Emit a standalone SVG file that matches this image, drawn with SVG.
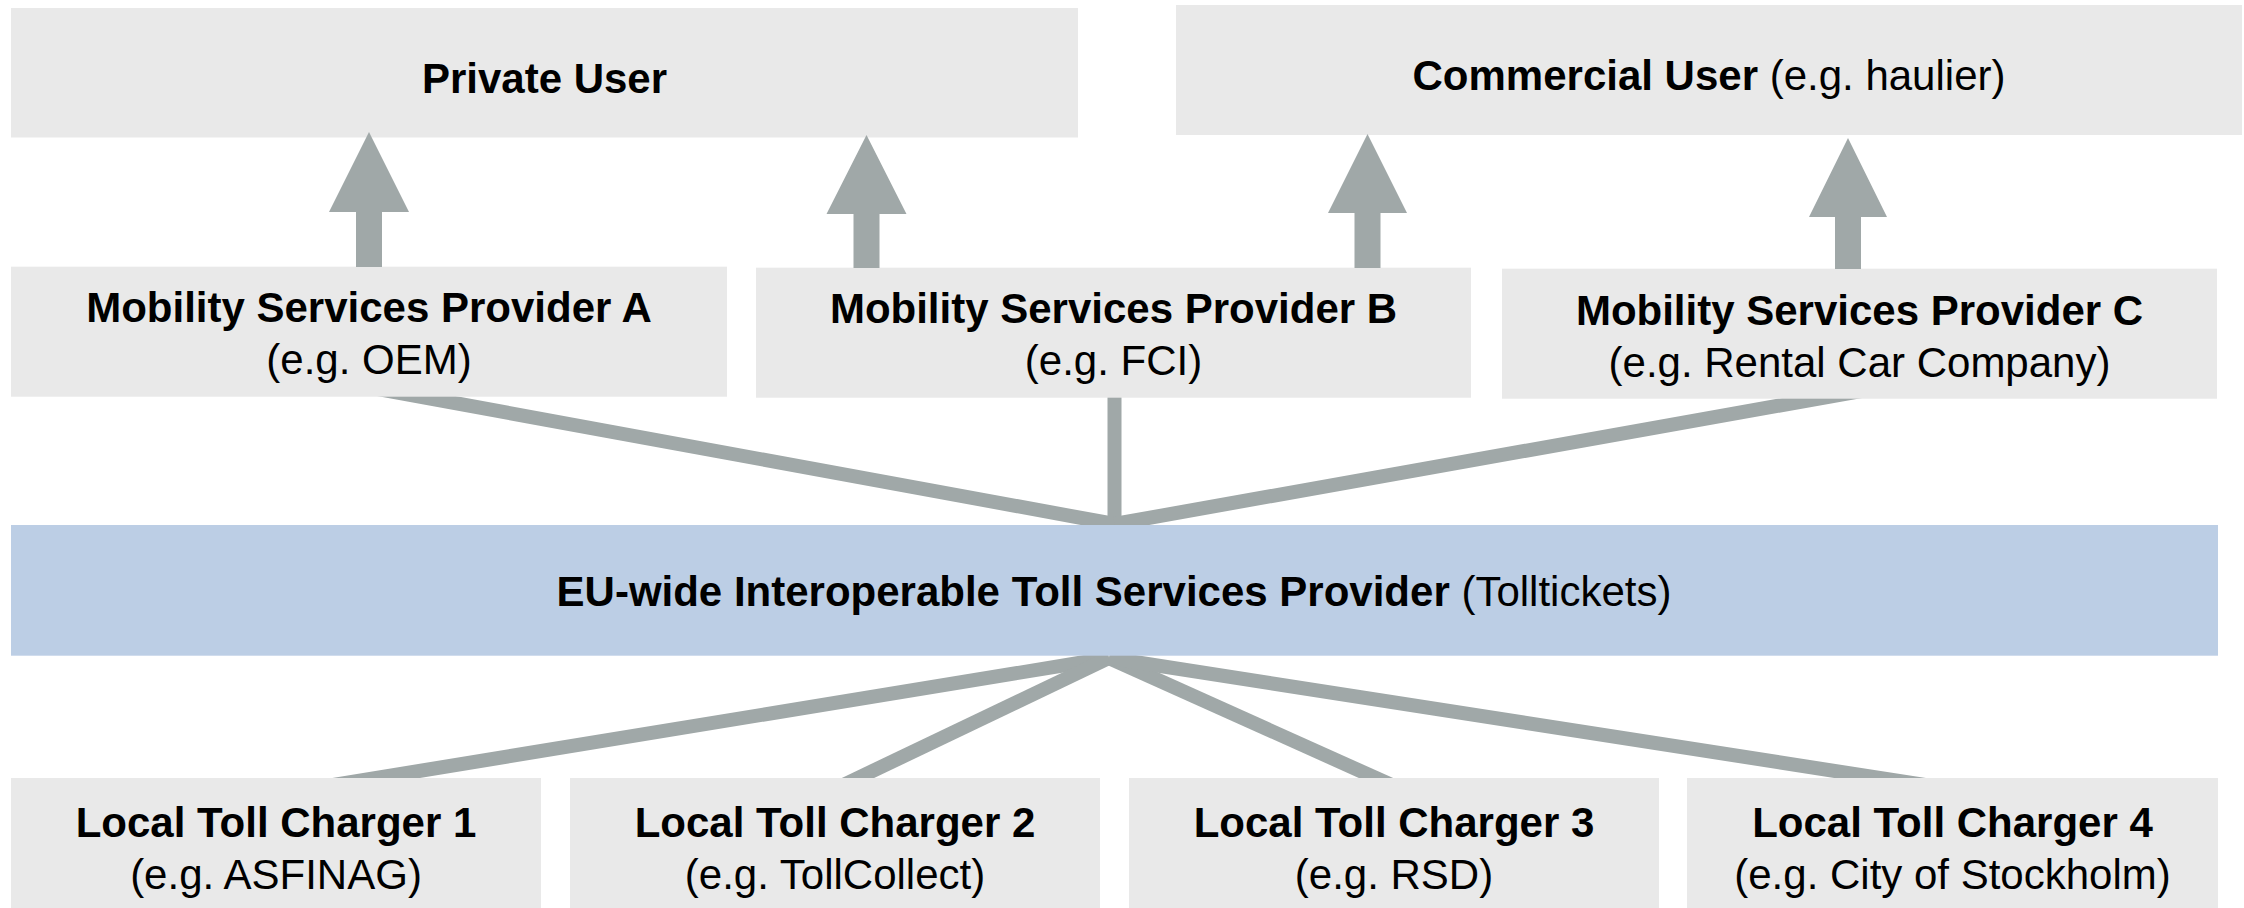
<svg xmlns="http://www.w3.org/2000/svg" width="2244" height="908" viewBox="0 0 2244 908">
<style>
.box{fill:#E9E9E9}
.eu{fill:#BCCEE5}
.t{font-family:"Liberation Sans",Arial,sans-serif;font-size:42px;fill:#000;text-anchor:middle}
.b{font-weight:bold}
.ln{stroke:#A0A8A8;stroke-width:14;fill:none}
.ar{fill:#A0A8A8}
</style>
<rect width="2244" height="908" fill="#fff"/>
<g id="connectors">
<line class="ln" x1="329" y1="380" x2="1114.5" y2="524"/>
<line class="ln" x1="1114.5" y1="390" x2="1114.5" y2="526"/>
<line class="ln" x1="1922.6" y1="380" x2="1114.5" y2="524"/>
<line class="ln" x1="1109" y1="658" x2="272.2" y2="795"/>
<line class="ln" x1="1109" y1="658" x2="822.4" y2="795"/>
<line class="ln" x1="1109" y1="658" x2="1413.8" y2="795"/>
<line class="ln" x1="1109" y1="658" x2="1989.3" y2="795"/>
</g>
<g id="private-user">
<rect class="box" x="11" y="8" width="1067" height="129.5"/>
<text class="t b" x="544.5" y="92.7">Private User</text>
</g>
<g id="commercial-user">
<rect class="box" x="1176" y="5" width="1066" height="130"/>
<text class="t" x="1709" y="90"><tspan class="b">Commercial User</tspan> (e.g. haulier)</text>
</g>
<g id="msp-a">
<rect class="box" x="11" y="266.7" width="716" height="130"/>
<text class="t b" x="369" y="322">Mobility Services Provider A</text>
<text class="t" x="369" y="374">(e.g. OEM)</text>
</g>
<g id="msp-b">
<rect class="box" x="756" y="267.7" width="715" height="130"/>
<text class="t b" x="1113.5" y="323">Mobility Services Provider B</text>
<text class="t" x="1113.5" y="375">(e.g. FCI)</text>
</g>
<g id="msp-c">
<rect class="box" x="1502" y="268.7" width="715" height="130"/>
<text class="t b" x="1859.5" y="324.5">Mobility Services Provider C</text>
<text class="t" x="1859.5" y="376.5">(e.g. Rental Car Company)</text>
</g>
<g id="arrows">
<path class="ar" d="M356,267 L356,212 L329,212 L369,132 L409,212 L382,212 L382,267 Z"/>
<path class="ar" d="M853.5,268 L853.5,214 L826.5,214 L866.5,135 L906.5,214 L879.5,214 L879.5,268 Z"/>
<path class="ar" d="M1354.5,268 L1354.5,213 L1328,213 L1367.5,134 L1407,213 L1380.5,213 L1380.5,268 Z"/>
<path class="ar" d="M1835,269 L1835,217 L1809,217 L1848,138 L1887,217 L1861,217 L1861,269 Z"/>
</g>
<g id="eu-provider">
<rect class="eu" x="11" y="525" width="2207" height="130.7"/>
<text class="t" x="1114" y="606"><tspan class="b">EU-wide Interoperable Toll Services Provider</tspan> (Tolltickets)</text>
</g>
<g id="local-1">
<rect class="box" x="11" y="778" width="530" height="130"/>
<text class="t b" x="276" y="836.7">Local Toll Charger 1</text>
<text class="t" x="276" y="889">(e.g. ASFINAG)</text>
</g>
<g id="local-2">
<rect class="box" x="570" y="778" width="530" height="130"/>
<text class="t b" x="835" y="836.7">Local Toll Charger 2</text>
<text class="t" x="835" y="889">(e.g. TollCollect)</text>
</g>
<g id="local-3">
<rect class="box" x="1129" y="778" width="530" height="130"/>
<text class="t b" x="1394" y="836.7">Local Toll Charger 3</text>
<text class="t" x="1394" y="889">(e.g. RSD)</text>
</g>
<g id="local-4">
<rect class="box" x="1687" y="778" width="531" height="130"/>
<text class="t b" x="1952.5" y="836.7">Local Toll Charger 4</text>
<text class="t" x="1952.5" y="889">(e.g. City of Stockholm)</text>
</g>
</svg>
